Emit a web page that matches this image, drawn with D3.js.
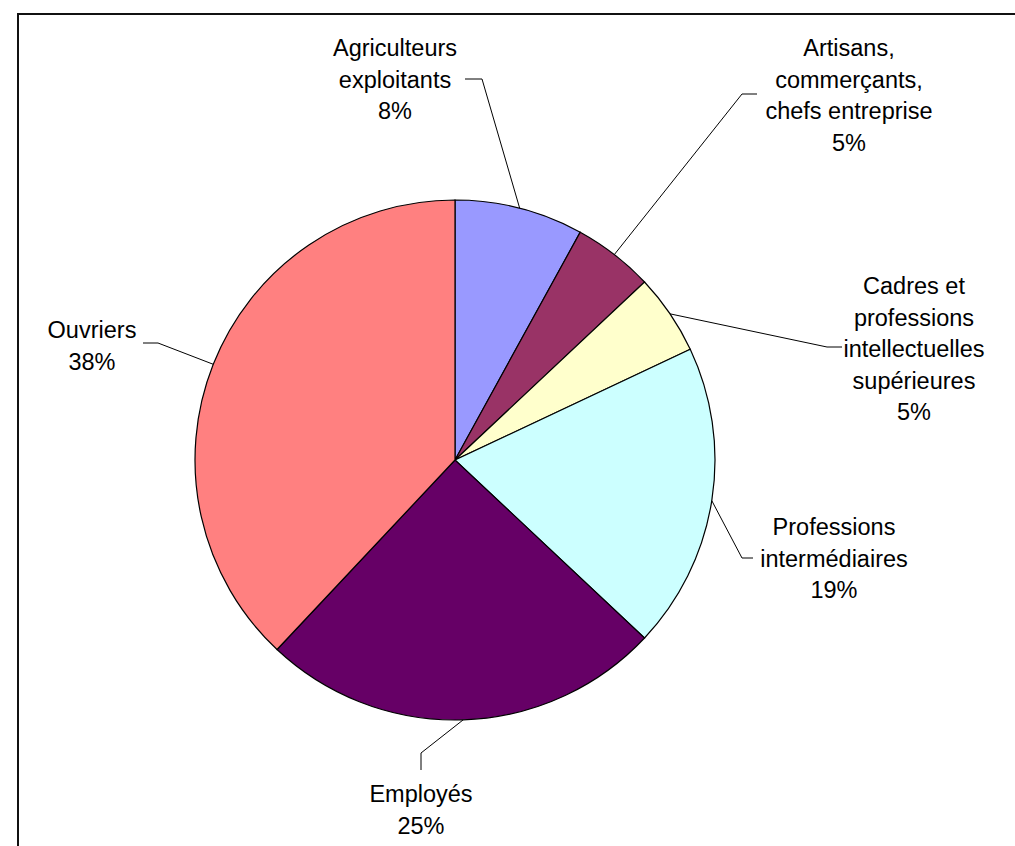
<!DOCTYPE html>
<html>
<head>
<meta charset="utf-8">
<script src="https://cdn.jsdelivr.net/npm/d3@7"></script>
<style>
  html, body { margin: 0; padding: 0; background: #fff; }
  svg { display: block; }
  text { font-family: "Liberation Sans", Arial, sans-serif; font-size: 23.5px; fill: #000; }
</style>
</head>
<body>
<svg id="chart" width="1015" height="846"></svg>
<script>
// Socio-professional categories, clockwise from 12 o'clock
const categories = [
  "Agriculteurs exploitants",
  "Artisans, commerçants, chefs entreprise",
  "Cadres et professions intellectuelles supérieures",
  "Professions intermédiaires",
  "Employés",
  "Ouvriers"
];
// Share of each category, in percent
const shares = [8, 5, 5, 19, 25, 38];
// Label lines as displayed next to each slice
const labelLines = [
  ["Agriculteurs", "exploitants"],
  ["Artisans,", "commerçants,", "chefs entreprise"],
  ["Cadres et", "professions", "intellectuelles", "supérieures"],
  ["Professions", "intermédiaires"],
  ["Employés"],
  ["Ouvriers"]
];
const colors = ["#9999FF", "#993366", "#FFFFCC", "#CCFFFF", "#660066", "#FF8080"];

const svg = d3.select("#chart");
const cx = 455, cy = 460, R = 260;
const lineH = 31.5;

// Outer chart frame (extends past the right and bottom edges)
svg.append("rect")
  .attr("x", 18).attr("y", 14)
  .attr("width", 1200).attr("height", 1000)
  .attr("fill", "none").attr("stroke", "#111").attr("stroke-width", 2);

const pie = d3.pie().sort(null).value(d => d)(shares);
const arc = d3.arc().innerRadius(0).outerRadius(R);

const g = svg.append("g").attr("transform", `translate(${cx},${cy})`);
g.selectAll("path.slice")
  .data(pie)
  .join("path")
  .attr("class", "slice")
  .attr("d", arc)
  .attr("fill", (d, i) => colors[i])
  .attr("stroke", "#000")
  .attr("stroke-width", 1.2);

// Label placement: text centre x, first baseline y, elbow point and line end
const labelLayout = [
  { x: 395, y: 56,  elbow: [482, 79],  end: [465, 79] },
  { x: 849, y: 56,  elbow: [742, 94],  end: [757, 94] },
  { x: 914, y: 294, elbow: [827, 347], end: [842, 347] },
  { x: 834, y: 535, elbow: [742, 558], end: [753, 558] },
  { x: 421, y: 802, elbow: [421, 753], end: [421, 770] },
  { x: 92,  y: 338, elbow: [158, 343], end: [143, 343] }
];

// Point on the rim at the middle of each slice
function rimPoint(d) {
  const a = (d.startAngle + d.endAngle) / 2;
  return [cx + R * Math.sin(a), cy - R * Math.cos(a)];
}

const labels = svg.append("g");
pie.forEach((d, i) => {
  const L = labelLayout[i];
  const p = rimPoint(d);
  labels.append("polyline")
    .attr("points", [p, L.elbow, L.end].map(q => q.join(",")).join(" "))
    .attr("fill", "none").attr("stroke", "#000").attr("stroke-width", 1);

  const t = labels.append("text").attr("text-anchor", "middle");
  const lines = labelLines[i].concat([d3.format(".0f")(shares[i]) + "%"]);
  lines.forEach((s, k) => {
    t.append("tspan").attr("x", L.x).attr("y", L.y + k * lineH).text(s);
  });
});
</script>
</body>
</html>
